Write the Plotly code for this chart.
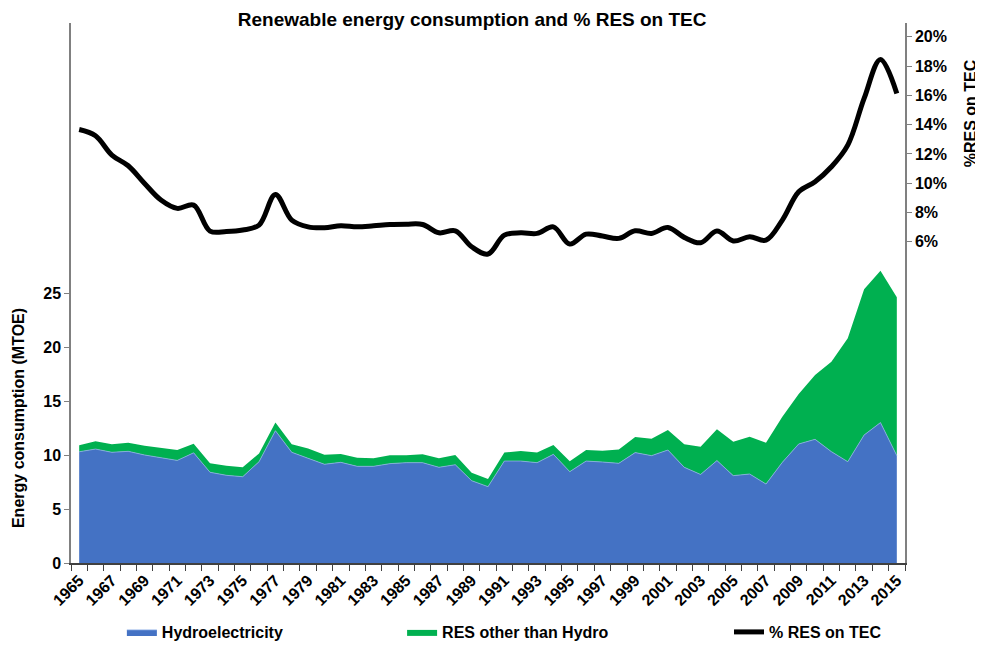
import plotly.graph_objects as go

years = list(range(1965, 2016))

# MTOE
hydro = [10.3, 10.55, 10.25, 10.34, 10.0, 9.78, 9.5, 10.2, 8.4, 8.12,
         7.99, 9.38, 12.25, 10.25, 9.69, 9.14, 9.32, 8.95, 8.95, 9.2,
         9.29, 9.29, 8.86, 9.1, 7.62, 7.07, 9.44, 9.44, 9.29, 10.06,
         8.46, 9.44, 9.35, 9.23, 10.22, 9.94, 10.46, 8.86, 8.2, 9.48,
         8.09, 8.24, 7.31, 9.32, 11.02, 11.45, 10.31, 9.38, 11.85, 13.0, 9.94]

other_res = [0.6, 0.72, 0.75, 0.8, 0.86, 0.9, 0.96, 0.85, 0.83, 0.89,
             0.87, 0.77, 0.77, 0.75, 0.91, 0.89, 0.77, 0.8, 0.74, 0.77,
             0.68, 0.77, 0.83, 0.9, 0.74, 0.71, 0.78, 0.93, 0.93, 0.87,
             0.95, 1.02, 1.05, 1.29, 1.45, 1.57, 1.85, 2.13, 2.57, 2.9,
             3.14, 3.46, 3.83, 4.23, 4.63, 5.95, 8.33, 11.42, 13.49, 14.07, 14.66]

# % RES on TEC
res_share = [0.1367, 0.1324, 0.1192, 0.1119, 0.0998, 0.0885, 0.0828, 0.085, 0.0673, 0.067,
             0.068, 0.0714, 0.0923, 0.0748, 0.0702, 0.0696, 0.0709, 0.0702, 0.0709, 0.0718,
             0.072, 0.0718, 0.0661, 0.0675, 0.0566, 0.0516, 0.0645, 0.0661, 0.0657, 0.0702,
             0.0584, 0.0652, 0.0639, 0.0623, 0.0675, 0.0657, 0.0698, 0.063, 0.0593, 0.0673,
             0.0605, 0.0634, 0.0611, 0.0748, 0.0941, 0.101, 0.1112, 0.126, 0.1579, 0.1845, 0.1613]

left_ticks = [0, 5, 10, 15, 20, 25]
right_ticks = [0.06, 0.08, 0.10, 0.12, 0.14, 0.16, 0.18, 0.20]
year_labels = years[::2]

FONT = "Liberation Sans, Arial, sans-serif"

fig = go.Figure()

fig.add_trace(go.Scatter(
    x=years, y=hydro, name="Hydroelectricity",
    stackgroup="res", mode="lines",
    line=dict(width=0.8, color="#8eaee6"),
    fillcolor="#4472c4",
    legend="legend",
))
fig.add_trace(go.Scatter(
    x=years, y=other_res, name="RES other than Hydro",
    stackgroup="res", mode="lines",
    line=dict(width=0, color="#00b050"),
    fillcolor="#00b050",
    legend="legend2",
))
fig.add_trace(go.Scatter(
    x=years, y=res_share, name="% RES on TEC",
    yaxis="y2", mode="lines",
    line=dict(width=5, color="black", shape="spline", smoothing=1.0),
    legend="legend3",
))

# legends placed against the container so they don't push the bottom margin
legend_base = dict(
    orientation="h", yref="container", yanchor="middle", y=1 - 624 / 645,
    xanchor="left",
    font=dict(family=FONT, size=16, color="black", weight="bold"),
    bgcolor="rgba(0,0,0,0)",
)

# page body has an 8px margin, so the figure is shifted by 8px; margins account for it
fig.update_layout(
    width=983, height=645,
    margin=dict(l=63, r=86, t=15, b=90, autoexpand=False),
    showlegend=True,
    paper_bgcolor="white", plot_bgcolor="white",
    font=dict(family=FONT, color="black"),
    title=dict(
        text="Renewable energy consumption and % RES on TEC",
        x=0.481, xref="paper", xanchor="center",
        y=1 - 11 / 645, yref="container", yanchor="middle",
        font=dict(family=FONT, size=19, color="black", weight="bold"),
    ),
    xaxis=dict(
        range=[1964.5, 2015.5], automargin=False,
        tickmode="array", tickvals=year_labels, ticktext=[str(y) for y in year_labels],
        tickangle=-45, ticks="",
        tickfont=dict(family=FONT, size=16, color="black", weight="bold"),
        minor=dict(ticks="outside", tick0=1964.5, dtick=1, ticklen=6, tickcolor="#404040"),
        showline=True, linecolor="#404040", linewidth=1.5,
        showgrid=False, zeroline=False,
    ),
    yaxis=dict(
        range=[0, 50], automargin=False,
        tickmode="array", tickvals=left_ticks,
        ticks="outside", ticklen=5, tickcolor="#808080",
        tickfont=dict(family=FONT, size=16, color="black", weight="bold"),
        showline=True, linecolor="#808080", linewidth=1.5,
        showgrid=False, zeroline=False,
    ),
    yaxis2=dict(
        overlaying="y", side="right", automargin=False,
        range=[-0.1594, 0.2094],
        tickmode="array", tickvals=right_ticks, tickformat=".0%",
        ticks="outside", ticklen=5, tickcolor="#808080",
        tickfont=dict(family=FONT, size=16, color="black", weight="bold"),
        showline=True, linecolor="#808080", linewidth=1.5,
        showgrid=False, zeroline=False,
    ),
    legend=dict(legend_base, x=0.061),
    legend2=dict(legend_base, x=0.397),
    legend3=dict(legend_base, x=0.789),
    annotations=[
        dict(text="Energy consumption (MTOE)", textangle=-90,
             x=-0.0635, y=0.2685, xref="paper", yref="paper",
             xanchor="center", yanchor="middle", showarrow=False,
             font=dict(family=FONT, size=16, color="black", weight="bold")),
        dict(text="%RES on TEC", textangle=-90,
             x=1.078, y=0.833, xref="paper", yref="paper",
             xanchor="center", yanchor="middle", showarrow=False,
             font=dict(family=FONT, size=16, color="black", weight="bold")),
    ],
)

fig.write_html("out.html")
